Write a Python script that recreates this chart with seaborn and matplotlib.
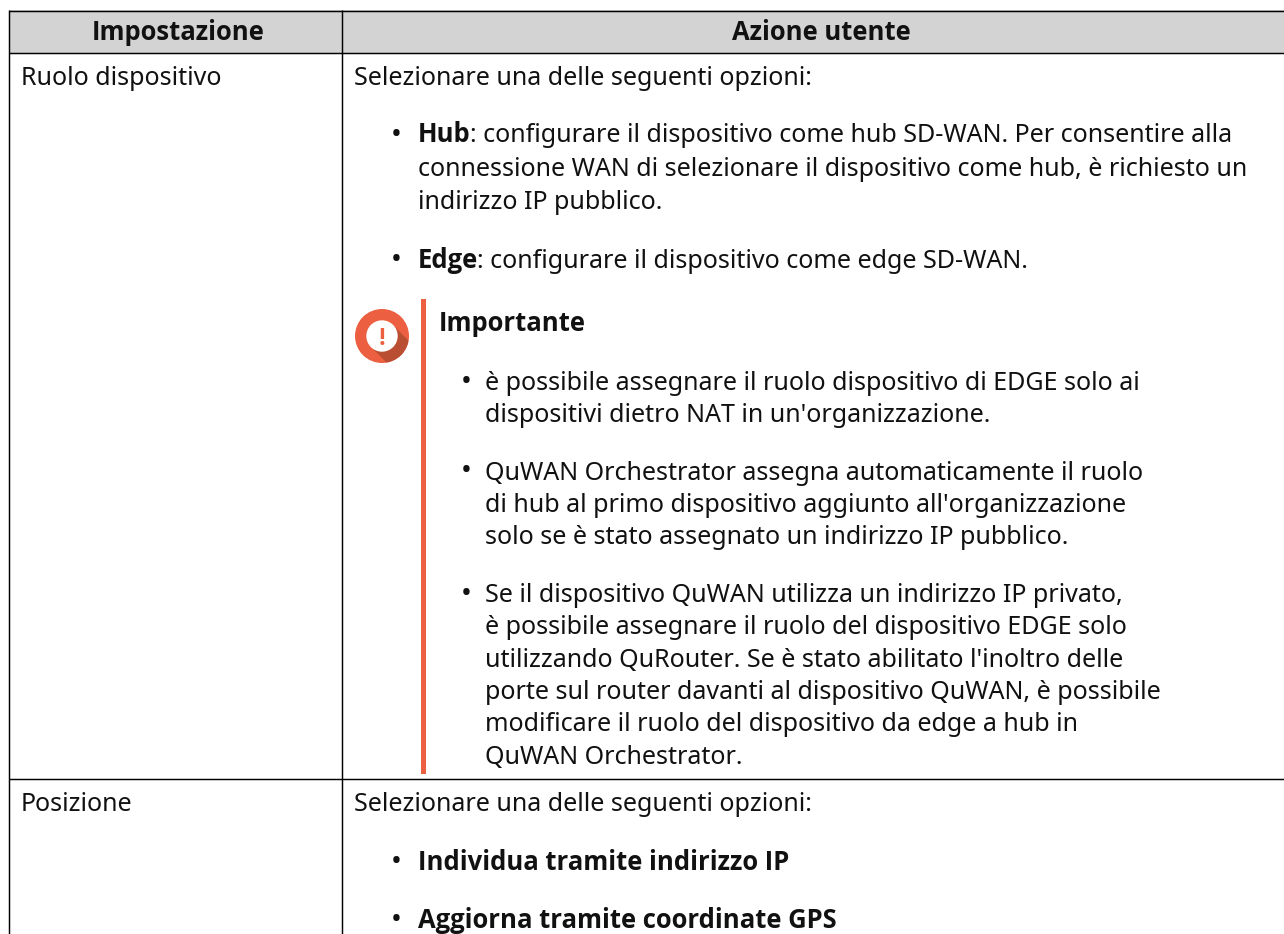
import matplotlib
matplotlib.use("Agg")
import matplotlib.pyplot as plt
from matplotlib.patches import Circle, Rectangle, Polygon
import seaborn as sns

sns.set_theme(style="white")
plt.rcParams['font.family'] = ['Noto Sans', 'DejaVu Sans']

headers = ["Impostazione", "Azione utente"]
settings = ["Ruolo dispositivo", "Posizione"]
select_line = "Selezionare una delle seguenti opzioni:"
hub_lines = [("Hub", ": configurare il dispositivo come hub SD-WAN. Per consentire alla"),
             ("", "connessione WAN di selezionare il dispositivo come hub, è richiesto un"),
             ("", "indirizzo IP pubblico.")]
edge_line = ("Edge", ": configurare il dispositivo come edge SD-WAN.")
important_title = "Importante"
note_1 = ["è possibile assegnare il ruolo dispositivo di EDGE solo ai",
          "dispositivi dietro NAT in un'organizzazione."]
note_2 = ["QuWAN Orchestrator assegna automaticamente il ruolo",
          "di hub al primo dispositivo aggiunto all'organizzazione",
          "solo se è stato assegnato un indirizzo IP pubblico."]
note_3 = ["Se il dispositivo QuWAN utilizza un indirizzo IP privato,",
          "è possibile assegnare il ruolo del dispositivo EDGE solo",
          "utilizzando QuRouter. Se è stato abilitato l'inoltro delle",
          "porte sul router davanti al dispositivo QuWAN, è possibile",
          "modificare il ruolo del dispositivo da edge a hub in",
          "QuWAN Orchestrator."]
pos_options = ["Individua tramite indirizzo IP", "Aggiorna tramite coordinate GPS"]

W, H = 1284, 934
FS = 18.05
FS_BOLD = 18.45
INK = "#111111"
ORANGE = "#ec6041"
LEAD = 32.3
fig = plt.figure(figsize=(W / 100, H / 100), dpi=100, facecolor="white")
ax = fig.add_axes([0, 0, 1, 1])
ax.set_xlim(0, W)
ax.set_ylim(H, 0)
ax.axis("off")
sns.despine(ax=ax, left=True, bottom=True)


def put(x, y, s, bold=False, ha="left"):
    if bold:
        return ax.text(x, y, s, fontsize=FS_BOLD, color=INK, ha=ha, va="baseline",
                       family=["Open Sans", "DejaVu Sans"], fontweight="bold")
    return ax.text(x, y, s, fontsize=FS, color=INK, ha=ha, va="baseline")


def bullet(x, y):
    ax.text(x, y, "•", fontsize=FS + 2.5, color=INK, ha="center", va="baseline")


def bold_then(x, y, b, s):
    if b:
        t = put(x, y, b, bold=True)
        r = fig.canvas.get_renderer()
        x = x + t.get_window_extent(r).width - 1
    put(x, y, s)


# header and grid
ax.add_patch(Rectangle((9, 10), W - 9, 43, fc="#d3d3d3", ec="none", zorder=0))
for y in (10.5, 53, 779):
    ax.plot([9, W], [y, y], color="black", lw=1.05, zorder=1, solid_capstyle="butt")
ax.plot([9, 9], [10, H], color="black", lw=1.05, zorder=1, solid_capstyle="butt")
ax.plot([342, 342], [10, H], color="black", lw=1.05, zorder=1, solid_capstyle="butt")

put(178, 40.5, headers[0], bold=True, ha="center")
put(821, 40.5, headers[1], bold=True, ha="center")

put(21, 85, settings[0])
put(21, 811, settings[1])
put(354, 85, select_line)
put(354, 811, select_line)

for (b, s), y in zip(hub_lines, (142.5, 176, 209)):
    bold_then(418, y, b, s)
bold_then(418, 268, *edge_line)
for y in (143, 268):
    bullet(396, y)

# note
ax.add_patch(Rectangle((421, 299), 5, 475, fc=ORANGE, ec="none"))
disc = Circle((382, 336), 27, fc=ORANGE, ec="none", zorder=2)
ax.add_patch(disc)
shade = Polygon([(371, 347), (393, 325), (423, 355), (401, 377)],
                fc="#b94e33", ec="none", zorder=3)
ax.add_patch(shade)
shade.set_clip_path(disc)
ax.add_patch(Circle((382, 336), 15.7, fc="white", ec="none", zorder=4))
ax.text(382, 345, "!", color=ORANGE, fontsize=17, ha="center", va="baseline", zorder=5,
        family=["Open Sans", "DejaVu Sans"], fontweight="bold")
put(439, 331, important_title, bold=True)

for lines, y0 in ((note_1, 390), (note_2, 479.5), (note_3, 602)):
    bullet(466, y0)
    for i, s in enumerate(lines):
        put(485, y0 + i * LEAD, s)

for s, y in zip(pos_options, (870, 928)):
    bullet(396, y)
    put(418, y, s, bold=True)

fig.savefig("out.png", dpi=100)
